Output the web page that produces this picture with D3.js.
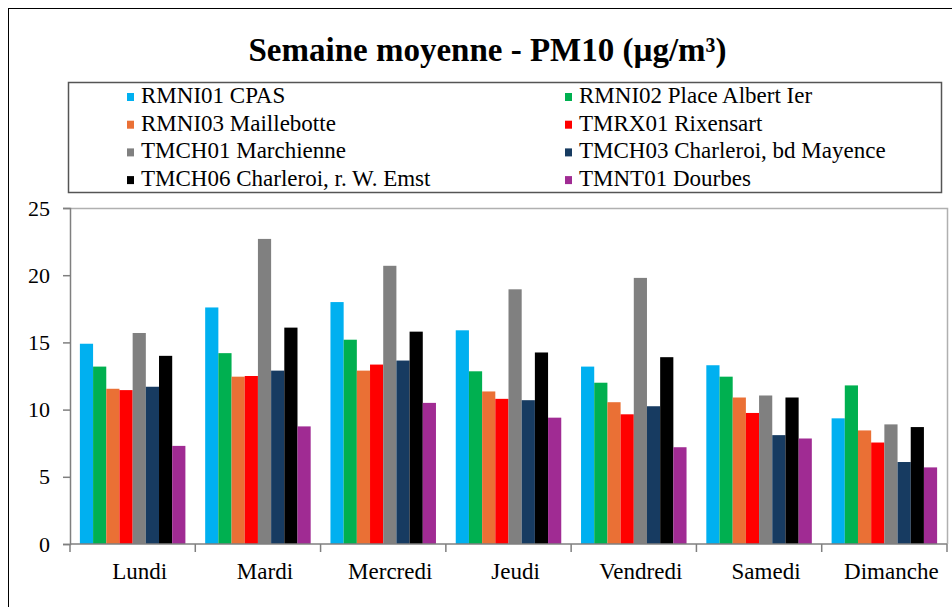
<!DOCTYPE html>
<meta charset="utf-8">
<style>
    html, body { margin: 0; background: #fff; }
    svg { font-family: "Liberation Serif", "Times New Roman", serif; }
</style>
<body>
<script src="https://d3js.org/d3.v7.min.js"></script>
<script>

var days = ["Lundi", "Mardi", "Mercredi", "Jeudi", "Vendredi", "Samedi", "Dimanche"];

var stations = ["RMNI01 CPAS", "RMNI02 Place Albert Ier", "RMNI03 Maillebotte", "TMRX01 Rixensart",
    "TMCH01 Marchienne", "TMCH03 Charleroi, bd Mayence", "TMCH06 Charleroi, r. W. Emst", "TMNT01 Dourbes"];

var colors = ["#00b0f0", "#00b050", "#ea7035", "#ff0000", "#808080", "#173b61", "#000000", "#a02b93"];

// one array per station, Lundi -> Dimanche
var rmni01 = [14.9, 17.6, 18.0, 15.9, 13.2, 13.3, 9.35];
var rmni02 = [13.2, 14.2, 15.2, 12.85, 12.0, 12.45, 11.8];
var rmni03 = [11.55, 12.45, 12.9, 11.35, 10.55, 10.9, 8.45];
var tmrx01 = [11.45, 12.5, 13.35, 10.8, 9.65, 9.75, 7.55];
var tmch01 = [15.7, 22.7, 20.7, 18.95, 19.8, 11.05, 8.9];
var tmch03 = [11.7, 12.9, 13.65, 10.7, 10.25, 8.1, 6.1];
var tmch06 = [14.0, 16.1, 15.8, 14.25, 13.9, 10.9, 8.7];
var tmnt01 = [7.3, 8.75, 10.5, 9.4, 7.2, 7.85, 5.7];

var series = [rmni01, rmni02, rmni03, tmrx01, tmch01, tmch03, tmch06, tmnt01];
var yTicks = [0, 5, 10, 15, 20, 25];

var width = 952, height = 607;
var plot = {left: 70, top: 208, right: 947, bottom: 544};
var serif = "'Liberation Serif', 'Times New Roman', serif";

var svg = d3.select("body").append("svg")
    .attr("width", width)
    .attr("height", height);

// outer chart frame
svg.append("rect")
    .attr("x", 8.5).attr("y", 8.5)
    .attr("width", 960).attr("height", 620)
    .attr("fill", "none").attr("stroke", "#000").attr("stroke-width", 1);

svg.append("text")
    .attr("x", 487.5).attr("y", 61)
    .attr("text-anchor", "middle")
    .style("font-family", serif)
    .style("font-size", "33px")
    .style("font-weight", "bold")
    .text("Semaine moyenne - PM10 (µg/m³)");

// legend
var leg = svg.append("g");
leg.append("rect")
    .attr("x", 68.5).attr("y", 82.5)
    .attr("width", 873).attr("height", 110)
    .attr("fill", "none").attr("stroke", "#555").attr("stroke-width", 1.5);

var item = leg.selectAll("g.item")
    .data(stations)
    .enter().append("g")
    .attr("class", "item")
    .attr("transform", function (d, i) {
        var x = i % 2 === 0 ? 127 : 565;
        var y = 97 + Math.floor(i / 2) * 27.7;
        return "translate(" + x + "," + y + ")";
    });

item.append("rect")
    .attr("x", 0).attr("y", -4)
    .attr("width", 7).attr("height", 8)
    .attr("fill", function (d, i) { return colors[i]; });

item.append("text")
    .attr("x", 14).attr("y", 6)
    .style("font-family", serif)
    .style("font-size", "23px")
    .attr("fill", "#000")
    .text(function (d) { return d; });

// scales
var x0 = d3.scaleBand()
    .domain(days)
    .range([plot.left, plot.right])
    .padding(0);

var x1 = d3.scaleBand()
    .domain(d3.range(stations.length))
    .range([0, x0.bandwidth()])
    .paddingInner(0)
    .paddingOuter(0.75);

var y = d3.scaleLinear()
    .domain([0, 25])
    .range([plot.bottom, plot.top]);

// plot area border
svg.append("path")
    .attr("d", "M" + plot.left + "," + (plot.top + 0.5) + "H" + (plot.right + 0.5) + "V" + plot.bottom)
    .attr("fill", "none").attr("stroke", "#b0b0b0").attr("stroke-width", 1.5);

// bars
var groups = svg.append("g").selectAll("g")
    .data(days)
    .enter().append("g")
    .attr("transform", function (d) { return "translate(" + x0(d) + ",0)"; });

groups.selectAll("rect")
    .data(function (d, di) { return series.map(function (s, si) { return {s: si, v: s[di]}; }); })
    .enter().append("rect")
    .attr("x", function (d) { return x1(d.s); })
    .attr("y", function (d) { return y(d.v); })
    .attr("width", x1.bandwidth())
    .attr("height", function (d) { return y(0) - y(d.v); })
    .attr("fill", function (d) { return colors[d.s]; });

// y axis
var yAxis = svg.append("g")
    .attr("transform", "translate(" + plot.left + ",0)")
    .call(d3.axisLeft(y).tickValues(yTicks).tickSize(7).tickPadding(13));
yAxis.attr("font-family", null).attr("font-size", null);
yAxis.select(".domain").attr("stroke", "#7f7f7f").attr("stroke-width", 1.5);
yAxis.selectAll(".tick line").attr("stroke", "#7f7f7f").attr("stroke-width", 1.5);
yAxis.selectAll("text")
    .attr("fill", "#000")
    .style("font-family", serif)
    .style("font-size", "22px");

// x axis, ticks between categories
var xAxis = svg.append("g")
    .attr("transform", "translate(0," + plot.bottom + ")");
xAxis.append("line")
    .attr("x1", plot.left).attr("x2", plot.right)
    .attr("stroke", "#7f7f7f").attr("stroke-width", 1.5);
xAxis.selectAll("line.tk")
    .data(days.concat(["end"]))
    .enter().append("line")
    .attr("class", "tk")
    .attr("x1", function (d) { return d === "end" ? plot.right : x0(d); })
    .attr("x2", function (d) { return d === "end" ? plot.right : x0(d); })
    .attr("y1", 0).attr("y2", 8)
    .attr("stroke", "#7f7f7f").attr("stroke-width", 1.5);
xAxis.selectAll("text")
    .data(days)
    .enter().append("text")
    .attr("x", function (d) { return x0(d) + x0.bandwidth() / 2 + 7; })
    .attr("y", 35)
    .attr("text-anchor", "middle")
    .style("font-family", serif)
    .style("font-size", "23px")
    .text(function (d) { return d; });

</script>
</body>
